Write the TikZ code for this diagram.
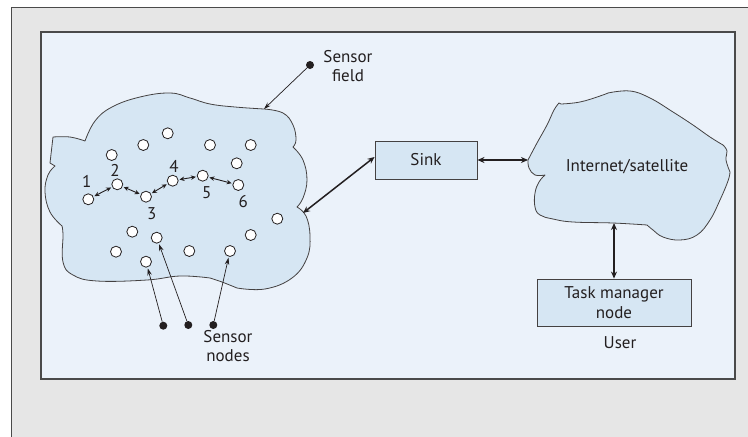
\documentclass[tikz,border=0pt]{standalone}
\usepackage{fontspec}
\setmainfont{PT Sans}
\usetikzlibrary{arrows.meta}

\definecolor{framegray}{HTML}{E6E6E6}
\definecolor{frameline}{HTML}{4A4A4A}
\definecolor{panelblue}{HTML}{EBF2FA}
\definecolor{cloudblue}{HTML}{D6E6F3}
\definecolor{ink}{HTML}{231F20}

\begin{document}
\begin{tikzpicture}[x=1pt,y=-1pt,
  lbl/.style={text=ink, inner sep=0pt, align=center, font=\fontsize{17}{19.5}\selectfont},
  sensor/.style={circle, draw=ink, fill=white, line width=0.8pt, minimum size=11pt, inner sep=0pt},
  pindot/.style={circle, fill=ink, minimum size=8pt, inner sep=0pt},
  cloudshape/.style={draw=ink!85, fill=cloudblue, line width=0.8pt, line join=round},
  boxnode/.style={draw=ink!85, fill=cloudblue, line width=0.9pt, inner sep=0pt, align=center,
    text=ink, font=\fontsize{17}{19.5}\selectfont},
  link/.style={draw=ink, line width=1.5pt, {Stealth[length=7pt,width=6pt]}-{Stealth[length=7pt,width=6pt]}},
  hop/.style={draw=ink, line width=0.9pt, {Stealth[length=5pt,width=4.5pt]}-{Stealth[length=5pt,width=4.5pt]},
    shorten <=1pt, shorten >=1pt},
  pointer/.style={draw=ink, line width=0.7pt, -{Stealth[length=7pt,width=4.5pt]}}
]
\useasboundingbox (0,0) rectangle (748,437);

% page and framed panel
\fill[white] (0,0) rectangle (748,437);
\fill[framegray] (11,7) rectangle (748,437);
\draw[frameline, line width=1pt] (11,437) -- (11,7) -- (748,7);
\draw[frameline, fill=panelblue, line width=1.1pt] (41,32) rectangle (735,379);

% sensor field cloud
\draw[cloudshape]
  plot[smooth, tension=0.7] coordinates {(53,137) (70,137) (85,141)}
  --plot[smooth, tension=0.7] coordinates {(85,141) (95,121) (112,107) (140,97) (170,93) (190,98) (210,104) (235,107) (264,109)}
  --plot[smooth, tension=0.7] coordinates {(264,109) (283,113) (293,125) (296,140) (293,147)}
  --plot[smooth, tension=0.7] coordinates {(293,147) (303,160) (307,180) (303,198) (297,207)}
  --plot[smooth, tension=0.7] coordinates {(297,207) (306,216) (310,236) (307,258) (292,278) (265,289) (237,288)}
  --plot[smooth, tension=0.7] coordinates {(237,288) (222,282) (210,278)}
  --plot[smooth, tension=0.7] coordinates {(210,278) (180,276) (147,280) (97,281) (73,275) (63,262) (63,235) (62,226)}
  --plot[smooth, tension=0.7] coordinates {(62,226) (50,212) (45,192) (48,175) (55,166)}
  -- (50,163) -- cycle;

% internet / satellite cloud
\draw[cloudshape]
  plot[smooth, tension=0.7] coordinates {(528,160) (537,143) (547,125) (554,110) (559,103)}
  --plot[smooth, tension=0.7] coordinates {(561,104) (580,102) (600,96) (608,93)}
  --plot[smooth, tension=0.7] coordinates {(608,93) (630,91) (650,98) (673,112) (693,125) (710,137) (723,145)}
  --plot[smooth, tension=0.7] coordinates {(723,145) (727,151) (726,160) (730,172)}
  --plot[smooth, tension=0.7] coordinates {(730,172) (728,181) (720,200) (710,220) (697,235) (680,240) (663,237) (653,230) (647,225)}
  --plot[smooth, tension=0.7] coordinates {(647,225) (613,223) (573,222) (553,219) (540,215) (535,207) (535,193) (539,182) (545,175)}
  --plot[smooth, tension=0.7] coordinates {(545,175) (535,175) (529,168) (528,160)};

% boxes and cloud text
\node[boxnode, minimum width=102pt, minimum height=38pt] (sink) at (426,160) {Sink};
\node[boxnode, minimum width=154pt, minimum height=47pt] (task) at (614,302.5) {Task manager\\node};
\node[lbl] (inet) at (627,167) {Internet/satellite};
\node[lbl] (user) at (620,343) {User};

% attachment points on the cloud outlines
\coordinate (fieldR) at (303,213);
\coordinate (fieldTop) at (264,109);
\coordinate (inetL) at (528,160);
\coordinate (inetB) at (614,223);

% sensor nodes
\node[sensor] (a1) at (167.7,133.3) {};
\node[sensor] (a2) at (143.3,145) {};
\node[sensor] (a3) at (210,145) {};
\node[sensor] (a4) at (250.7,145) {};
\node[sensor] (a5) at (111.7,155) {};
\node[sensor] (a6) at (236.7,163.3) {};
\node[sensor] (s1) at (88.3,199.3) {};
\node[sensor] (s2) at (117.3,184.3) {};
\node[sensor] (s3) at (146,196.7) {};
\node[sensor] (s4) at (172.7,180.7) {};
\node[sensor] (s5) at (202.7,175.7) {};
\node[sensor] (s6) at (238.3,185) {};
\node[sensor] (b1) at (277.3,218.7) {};
\node[sensor] (b2) at (132.3,231.7) {};
\node[sensor] (b3) at (156.7,237.7) {};
\node[sensor] (b4) at (250.7,235) {};
\node[sensor] (b5) at (116,251.7) {};
\node[sensor] (b6) at (189.3,251) {};
\node[sensor] (b7) at (230,251) {};
\node[sensor] (b8) at (146,261.7) {};

% hop numbers
\node[lbl] (l1) at (86.7,181.7) {1};
\node[lbl] (l2) at (115,170) {2};
\node[lbl] (l3) at (151.7,213.3) {3};
\node[lbl] (l4) at (174,166) {4};
\node[lbl] (l5) at (206.7,192.7) {5};
\node[lbl] (l6) at (243.3,201.7) {6};

% multihop route
\draw[hop] (s1) -- (s2);
\draw[hop] (s2) -- (s3);
\draw[hop] (s3) -- (s4);
\draw[hop] (s4) -- (s5);
\draw[hop] (s5) -- (s6);

% network links
\draw[link] (fieldR) -- ([yshift=3pt]sink.west);
\draw[link] (sink.east) -- (inetL);
\draw[link] (inetB) -- (task.north);

% sensor field callout
\node[pindot] (df) at (310,65) {};
\node[lbl] (fieldlbl) at (348,66) {Sensor\\field};
\draw[pointer] (df) -- (fieldTop);

% sensor nodes callout
\node[pindot] (d1) at (163.3,325.7) {};
\node[pindot] (d2) at (188.3,325) {};
\node[pindot] (d3) at (213.3,325) {};
\node[lbl] (nodeslbl) at (228,346) {Sensor\\nodes};
\draw[pointer, shorten >=1pt] (d1) -- (b8);
\draw[pointer, shorten >=1pt] (d2) -- (b3);
\draw[pointer, shorten >=1pt] (d3) -- (b7);
\end{tikzpicture}
\end{document}
